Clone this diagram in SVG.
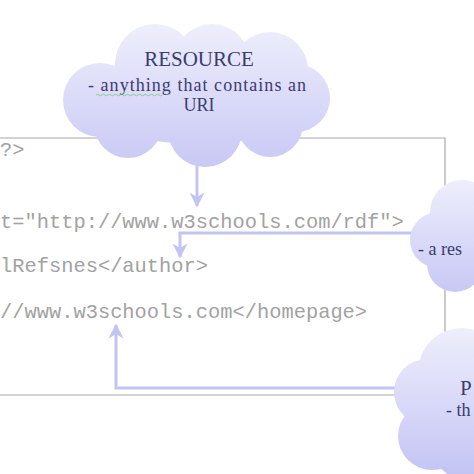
<svg xmlns="http://www.w3.org/2000/svg" width="474" height="474" viewBox="0 0 474 474">
<style>
.code{font-family:"Liberation Mono","Courier New",monospace;font-size:20.4px;fill:#a2a2a2}
.ct{font-family:"Liberation Serif","Times New Roman",serif;fill:#3c3c6e}
.conn{fill:none;stroke:#c4c4f2;stroke-width:3}
.box{fill:none;stroke:#a8a8a8;stroke-width:1.2}
</style>
<defs>
<linearGradient id="g1" gradientUnits="userSpaceOnUse" x1="0" y1="22" x2="0" y2="168"><stop offset="0" stop-color="#efeffd"/><stop offset="1" stop-color="#c8c8f5"/></linearGradient>
<linearGradient id="g2" gradientUnits="userSpaceOnUse" x1="0" y1="178" x2="0" y2="292"><stop offset="0" stop-color="#efeffd"/><stop offset="1" stop-color="#c8c8f5"/></linearGradient>
<linearGradient id="g3" gradientUnits="userSpaceOnUse" x1="0" y1="326" x2="0" y2="474"><stop offset="0" stop-color="#efeffd"/><stop offset="1" stop-color="#c4c4f4"/></linearGradient>
<marker id="ah" viewBox="0 0 10 10" refX="9" refY="5" markerWidth="5" markerHeight="5" orient="auto" markerUnits="strokeWidth"><path d="M0,0 L10,5 L0,10 L3,5 z" fill="#c4c4f2"/></marker>
</defs>
<rect width="474" height="474" fill="#ffffff"/>
<g id="code-box">
<path class="box" d="M0,138 H445 V395 H0"/>
<text class="code" x="0" y="156">?&gt;</text>
<text class="code" x="0" y="228">t="http://www.w3schools.com/rdf"&gt;</text>
<text class="code" x="0" y="272">lRefsnes&lt;/author&gt;</text>
<text class="code" x="0" y="318">//www.w3schools.com&lt;/homepage&gt;</text>
</g>
<g id="connectors">
<path class="conn" d="M197,160 V206" marker-end="url(#ah)"/>
<path class="conn" d="M420,233 H180 V257" marker-end="url(#ah)"/>
<path class="conn" d="M400,388 H116 V325" marker-end="url(#ah)"/>
</g>
<g id="resource">
<g fill="url(#g1)">
<ellipse cx="198" cy="98" rx="118" ry="46"/>
<circle cx="155" cy="64" r="40"/>
<circle cx="212" cy="62" r="38"/>
<circle cx="270" cy="70" r="38"/>
<circle cx="100" cy="100" r="37"/>
<circle cx="296" cy="98" r="34"/>
<circle cx="128" cy="124" r="34"/>
<circle cx="205" cy="130" r="37"/>
<circle cx="270" cy="124" r="33"/>
</g>
<text class="ct" x="199" y="66" font-size="21" text-anchor="middle">RESOURCE</text>
<text class="ct" x="88" y="91" font-size="18" textLength="218" lengthAdjust="spacing">- anything that contains  an</text>
<path d="M96,95 q1.5,-1.5 3,0 t3,0 t3,0 t3,0 t3,0 t3,0 t3,0 t3,0 t3,0 t3,0 t3,0 t3,0 t3,0 t3,0 t3,0 t3,0 t3,0 t3,0 t3,0 t3,0 t3,0 t3,0" fill="none" stroke="#7cd07c" stroke-width="0.9"/>
<text class="ct" x="199" y="111" font-size="18" text-anchor="middle">URI</text>
</g>
<g id="resource2">
<g fill="url(#g2)">
<circle cx="462" cy="212" r="32"/>
<circle cx="438" cy="240" r="28"/>
<circle cx="455" cy="264" r="28"/>
<circle cx="485" cy="240" r="40"/>
</g>
<text class="ct" x="418" y="255" font-size="18">- a res</text>
</g>
<g id="property">
<g fill="url(#g3)">
<circle cx="462" cy="372" r="44"/>
<circle cx="427" cy="392" r="33"/>
<circle cx="432" cy="436" r="34"/>
<circle cx="478" cy="432" r="52"/>
</g>
<text class="ct" x="460" y="395" font-size="21">P</text>
<text class="ct" x="446" y="416" font-size="18">- th</text>
</g>
</svg>
